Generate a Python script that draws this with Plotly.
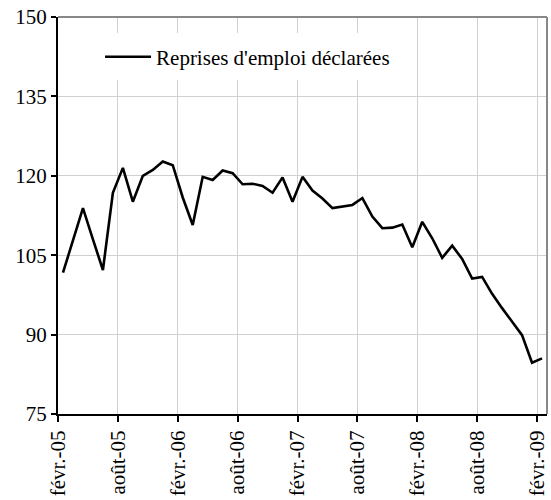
import plotly.graph_objects as go

# Monthly series, févr.-05 .. févr.-09 (49 months)
months = [f"{m}-{y:02d}" for y in range(5, 10) for m in
          ["janv.", "févr.", "mars", "avr.", "mai", "juin", "juil.", "août", "sept.", "oct.", "nov.", "déc."]][1:50]
values = [101.7, 107.8, 113.9, 108.0, 102.2, 116.8, 121.5, 115.1, 120.0, 121.1,
          122.7, 122.0, 115.9, 110.7, 119.8, 119.2, 121.0, 120.5, 118.4, 118.5,
          118.1, 116.8, 119.7, 115.1, 119.8, 117.2, 115.7, 113.9, 114.2, 114.5,
          115.8, 112.3, 110.1, 110.2, 110.8, 106.5, 111.3, 108.2, 104.5, 106.8,
          104.3, 100.6, 100.9, 97.7, 95.0, 92.4, 89.9, 84.7, 85.5]
series_name = "Reprises d'emploi déclarées"
tick_labels = ["févr.-05", "août-05", "févr.-06", "août-06", "févr.-07",
               "août-07", "févr.-08", "août-08", "févr.-09"]
tick_index = [0, 6, 12, 18, 24, 30, 36, 42, 48]
y_ticks = [75, 90, 105, 120, 135, 150]

x = list(range(len(values)))
FONT = "Liberation Serif"
FS = 21
BORDER = dict(color="#888888", width=2)

fig = go.Figure()
fig.add_trace(go.Scatter(
    x=x, y=values, mode="lines", name=series_name, text=months,
    line=dict(color="black", width=2.6),
    hovertemplate="%{text}: %{y}<extra></extra>",
))

fig.update_layout(
    width=551, height=500,
    margin=dict(l=58, r=4, t=17, b=86),
    paper_bgcolor="white", plot_bgcolor="white",
    font=dict(family=FONT, size=FS, color="black"),
    showlegend=True,
    legend=dict(x=0.086, y=0.899, xanchor="left", yanchor="middle",
                bgcolor="rgba(0,0,0,0)", borderwidth=0,
                font=dict(family=FONT, size=FS, color="black"),
                itemwidth=46),
    shapes=[
        dict(type="rect", xref="paper", yref="paper", x0=0.086, x1=0.70,
             y0=0.841, y1=0.96, fillcolor="white", line=dict(width=0),
             layer="above"),
        dict(type="line", xref="paper", yref="paper", x0=0, x1=1, y0=1, y1=1,
             line=BORDER, layer="above"),
        dict(type="line", xref="paper", yref="paper", x0=1, x1=1, y0=0, y1=1,
             line=BORDER, layer="above"),
    ],
)

fig.update_xaxes(
    range=[-0.5, len(values) - 0.5],
    tickmode="array",
    tickvals=[i - 0.5 for i in tick_index],
    ticktext=tick_labels,
    tickangle=-90,
    ticks="outside", ticklen=6, tickcolor="black", tickwidth=1.5,
    showgrid=True, gridcolor="#d0d0d0", gridwidth=1,
    showline=True, linecolor="black", linewidth=2,
    zeroline=False, automargin=False, ticklabeloverflow="allow",
    tickfont=dict(family=FONT, size=FS, color="black"),
)
fig.update_yaxes(
    range=[75, 150],
    tickmode="array", tickvals=y_ticks,
    ticks="outside", ticklen=5, tickcolor="black", tickwidth=1.5,
    showgrid=True, gridcolor="#d0d0d0", gridwidth=1,
    showline=True, linecolor="black", linewidth=2,
    zeroline=False, automargin=False, ticklabeloverflow="allow",
    tickfont=dict(family=FONT, size=FS, color="black"),
)

fig.write_html("out.html", config={"displayModeBar": False},
               post_script="document.body.style.margin='0px';")
